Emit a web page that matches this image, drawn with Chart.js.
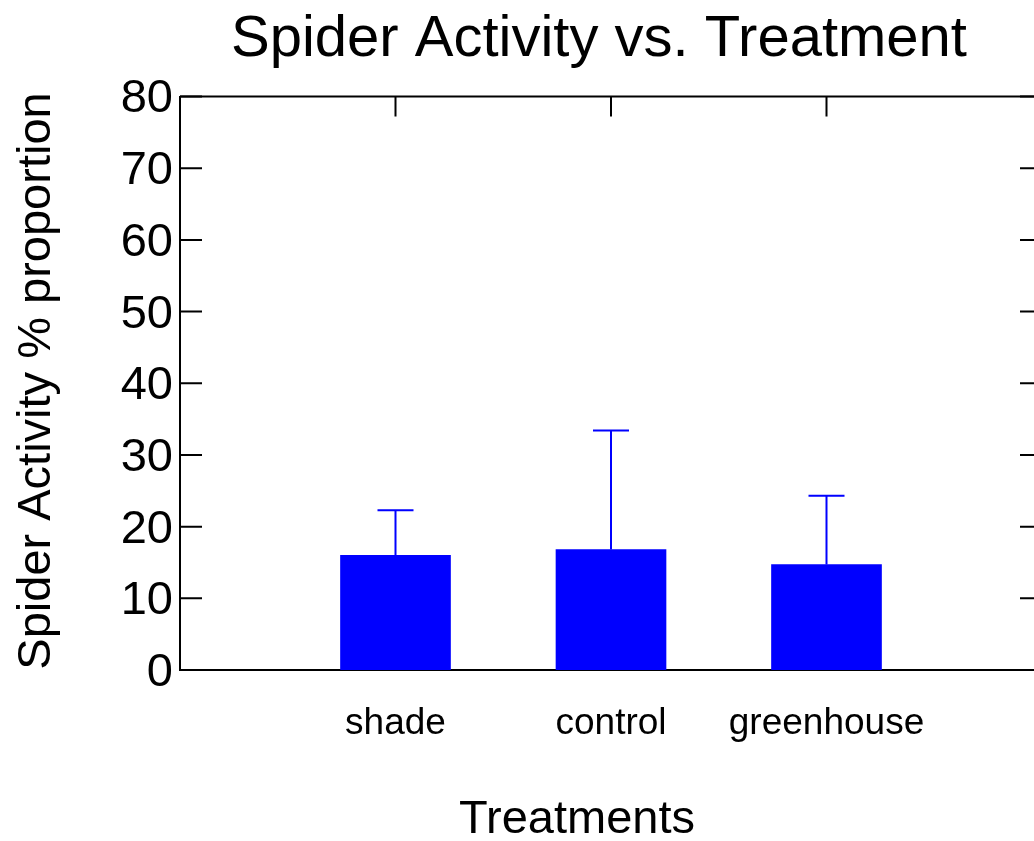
<!DOCTYPE html>
<html>
<head>
<meta charset="utf-8">
<script src="https://cdn.jsdelivr.net/npm/chart.js@4.4.1/dist/chart.umd.min.js"></script>
<style>
  html, body { margin: 0; padding: 0; background: #fff; overflow: hidden; }
  #wrap { position: absolute; left: 0; top: 0; width: 1074px; height: 841px; }
</style>
</head>
<body>
<div id="wrap"><canvas id="c" width="1074" height="841"></canvas></div>
<script>
const chartTitle = 'Spider Activity vs. Treatment';
const xTitle = 'Treatments';
const yTitle = 'Spider Activity % proportion';
const categories = ['shade', 'control', 'greenhouse'];
const means = [16.0, 16.8, 14.7];
const errUpper = [6.3, 16.6, 9.6];
const yMin = 0, yMax = 80, yStep = 10;

const FONT = '"Liberation Sans", Arial, Helvetica, sans-serif';
const labels = [''].concat(categories).concat(['']);
const data = [null].concat(means).concat([null]);

const framePlugin = {
  id: 'frame',
  afterDatasetsDraw(chart) {
    const ctx = chart.ctx;
    const xs = chart.scales.x, ys = chart.scales.y;
    const area = chart.chartArea;
    ctx.save();
    ctx.strokeStyle = '#0000ff';
    ctx.lineWidth = 2;
    for (let i = 0; i < categories.length; i++) {
      const px = xs.getPixelForValue(i + 1);
      const y0 = ys.getPixelForValue(means[i]);
      const y1 = ys.getPixelForValue(means[i] + errUpper[i]);
      ctx.beginPath();
      ctx.moveTo(px, y0);
      ctx.lineTo(px, y1);
      ctx.moveTo(px - 18, y1);
      ctx.lineTo(px + 18, y1);
      ctx.stroke();
    }
    ctx.strokeStyle = '#000';
    ctx.lineWidth = 2;
    ctx.beginPath();
    ctx.moveTo(area.left, area.top);
    ctx.lineTo(area.right, area.top);
    ctx.lineTo(area.right, area.bottom);
    ctx.stroke();
    ctx.beginPath();
    ys.ticks.forEach((t, i) => {
      const py = ys.getPixelForTick(i);
      ctx.moveTo(area.left, py); ctx.lineTo(area.left + 22, py);
      ctx.moveTo(area.right, py); ctx.lineTo(area.right - 22, py);
    });
    for (let i = 0; i < categories.length; i++) {
      const px = xs.getPixelForValue(i + 1);
      ctx.moveTo(px, area.top); ctx.lineTo(px, area.top + 20);
    }
    ctx.stroke();
    ctx.restore();
  },
  afterDraw(chart) {
    const ctx = chart.ctx;
    ctx.save();
    ctx.fillStyle = '#000';
    ctx.textAlign = 'center';
    ctx.textBaseline = 'alphabetic';
    ctx.font = '58px ' + FONT;
    ctx.fillText(chartTitle, 599, 56);
    ctx.font = '47px ' + FONT;
    ctx.fillText(xTitle, 577, 833);
    ctx.translate(50, 381);
    ctx.rotate(-Math.PI / 2);
    ctx.font = '47px ' + FONT;
    ctx.fillText(yTitle, 0, 0);
    ctx.restore();
  }
};

new Chart(document.getElementById('c'), {
  type: 'bar',
  data: {
    labels: labels,
    datasets: [{
      data: data,
      backgroundColor: '#0000ff',
      borderWidth: 0,
      barThickness: 110
    }]
  },
  options: {
    responsive: false,
    animation: false,
    devicePixelRatio: 1,
    layout: { padding: { left: 0, right: 0, top: 96.5, bottom: 0 } },
    plugins: { legend: { display: false }, tooltip: { enabled: false }, title: { display: false } },
    scales: {
      x: {
        type: 'category',
        offset: false,
        grid: { display: false, drawTicks: false },
        border: { display: true, color: '#000', width: 2 },
        ticks: { color: '#000', font: { family: FONT, size: 37 }, padding: 32, maxRotation: 0, autoSkip: false },
        afterFit(s) { s.height = 841 - 670; }
      },
      y: {
        min: yMin, max: yMax,
        grid: { display: false, drawTicks: false },
        border: { display: true, color: '#000', width: 2 },
        ticks: { stepSize: yStep, color: '#000', font: { family: FONT, size: 47 }, padding: 7, labelOffset: 3 },
        afterFit(s) { s.width = 180; }
      }
    }
  },
  plugins: [framePlugin]
});
</script>
</body>
</html>
